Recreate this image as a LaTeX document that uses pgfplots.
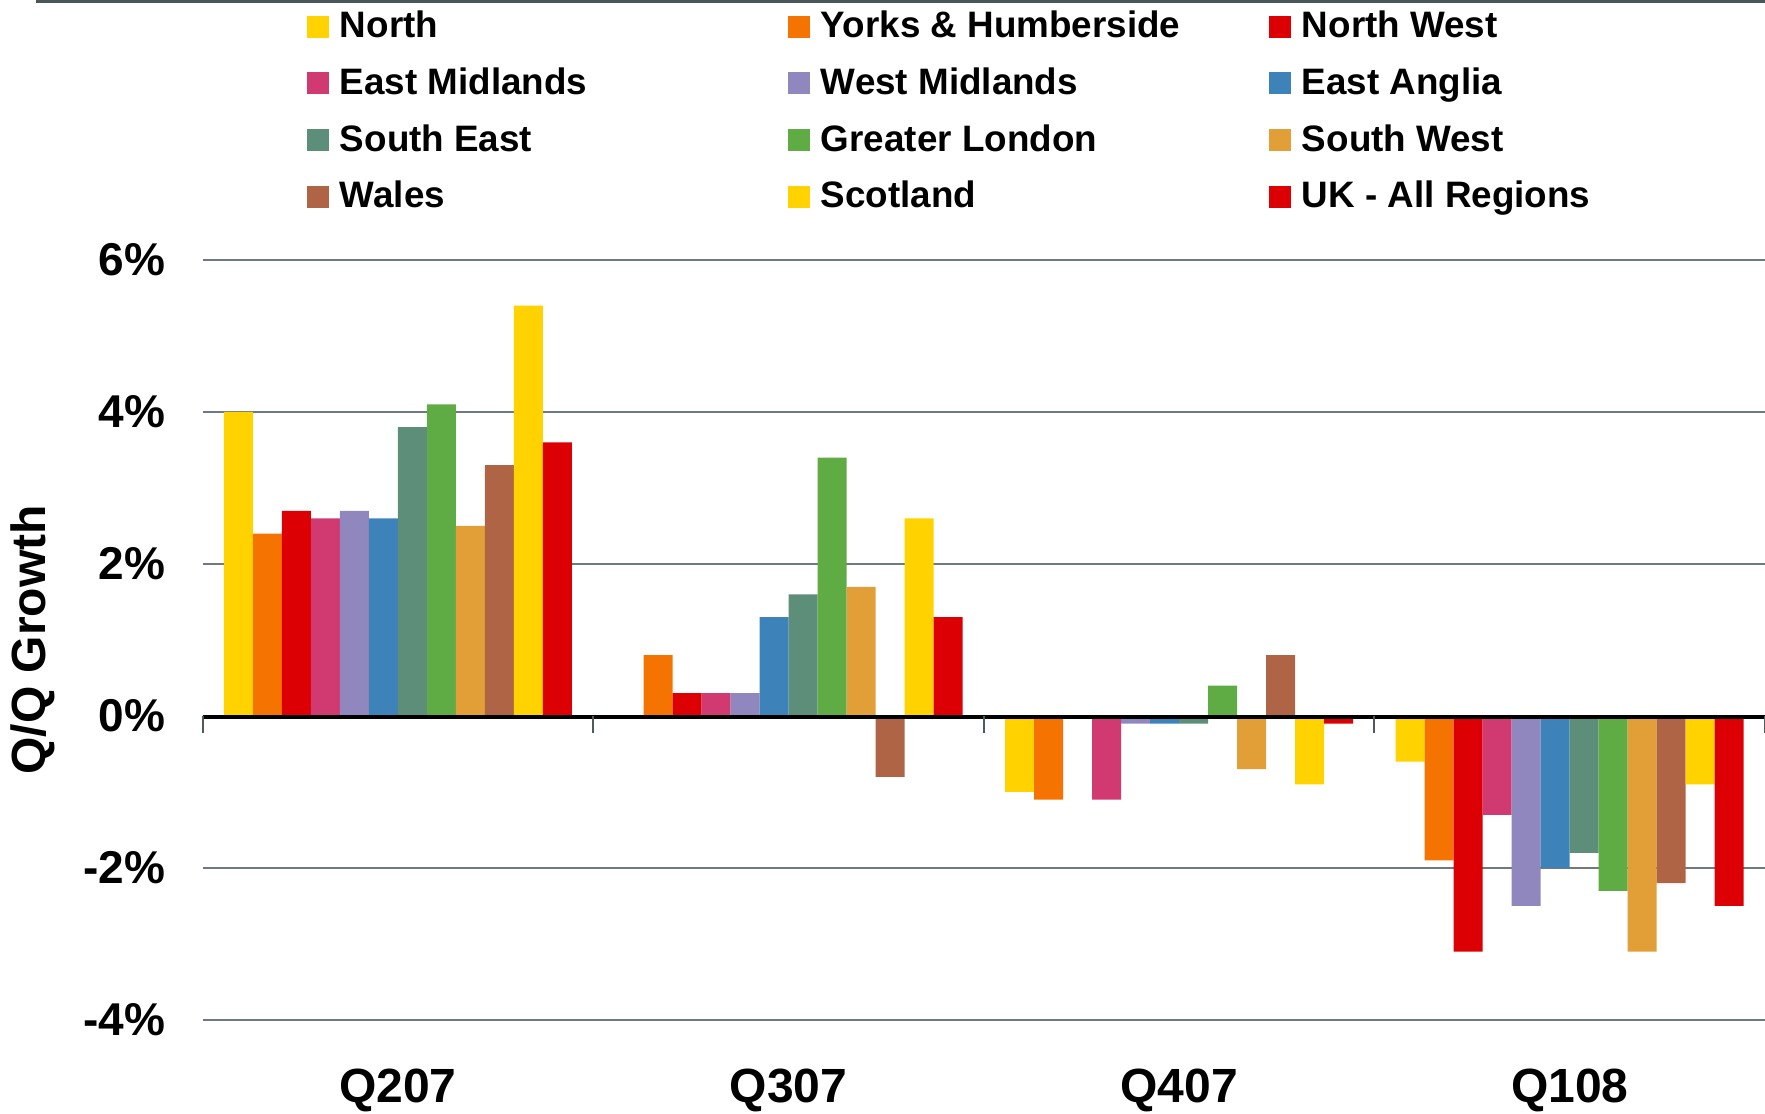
\documentclass[border=0pt]{standalone}
\usepackage{pgfplots}
\pgfplotsset{compat=1.18}
\usepackage{fontspec}
\setmainfont{Liberation Sans}
\definecolor{cNorth}{HTML}{FFD200}
\definecolor{cYorks}{HTML}{F57300}
\definecolor{cNW}{HTML}{DC0005}
\definecolor{cEM}{HTML}{D13A70}
\definecolor{cWM}{HTML}{9187BF}
\definecolor{cEA}{HTML}{3D82B8}
\definecolor{cSE}{HTML}{5C8E7A}
\definecolor{cGL}{HTML}{5FAB44}
\definecolor{cSW}{HTML}{E29F37}
\definecolor{cWales}{HTML}{AF6446}
\definecolor{cScot}{HTML}{FFD200}
\definecolor{cUK}{HTML}{DC0005}
\definecolor{gridgray}{HTML}{6E7A7D}
\definecolor{topline}{HTML}{4B565B}
\definecolor{tickgray}{HTML}{4F5A5E}
\begin{document}
\begin{tikzpicture}
\path[use as bounding box] (-101.3pt,-46.5pt) rectangle (781.2pt,510pt);
\draw[color=topline, line width=1.5pt] (-83.3pt,509.4pt) -- (781.2pt,509.4pt);
\begin{axis}[
  at={(0pt,0pt)}, anchor=south west,
  scale only axis, width=781.2pt, height=380pt,
  clip=false,
  ybar=0pt, bar width=14.5pt,
  xmin=-0.5, xmax=3.5, ymin=-4, ymax=6,
  xtick={0,1,2,3}, xticklabels={Q207,Q307,Q407,Q108},
  ytick={-4,-2,0,2,4,6}, yticklabels={-4\%,-2\%,0\%,2\%,4\%,6\%},
  major tick length=0pt,
  axis line style={draw=none},
  ymajorgrids, major grid style={gridgray, line width=0.6pt},
  xticklabel style={font=\fontsize{24}{28}\selectfont\bfseries, anchor=center, inner sep=0pt, yshift=-35pt},
  yticklabel style={font=\fontsize{23}{27}\selectfont\bfseries, anchor=east, inner sep=0pt, xshift=-18.5pt},
  ylabel={Q/Q Growth},
  ylabel style={font=\fontsize{24}{28}\selectfont\bfseries, at={(axis description cs:-0.1085,0.5)}, anchor=center},
  legend columns=3,
  legend cell align=left,
  legend style={at={(axis description cs:0.0668,1.3265)}, anchor=north west, draw=none, fill=none, inner sep=0pt, outer sep=0pt,
    font=\fontsize{18.4}{21}\selectfont\bfseries, column sep=0pt, row sep=11.3pt,
    nodes={inner sep=0pt, text height=13pt, text depth=4pt},
    /tikz/every odd column/.append style={column sep=5.5pt}},
  legend image code/.code={\fill[#1] (0pt,-4.5pt) rectangle (11pt,6.5pt);},
]
\addplot[fill=cNorth, draw=none] coordinates {(0,4.0) (1,0) (2,-1.0) (3,-0.6)};
\addlegendentry{\makebox[224pt][l]{North}}
\addplot[fill=cYorks, draw=none] coordinates {(0,2.4) (1,0.8) (2,-1.1) (3,-1.9)};
\addlegendentry{\makebox[224pt][l]{Yorks \& Humberside}}
\addplot[fill=cNW, draw=none] coordinates {(0,2.7) (1,0.3) (2,0) (3,-3.1)};
\addlegendentry{\makebox[224pt][l]{North West}}
\addplot[fill=cEM, draw=none] coordinates {(0,2.6) (1,0.3) (2,-1.1) (3,-1.3)};
\addlegendentry{\makebox[224pt][l]{East Midlands}}
\addplot[fill=cWM, draw=none] coordinates {(0,2.7) (1,0.3) (2,-0.1) (3,-2.5)};
\addlegendentry{\makebox[224pt][l]{West Midlands}}
\addplot[fill=cEA, draw=none] coordinates {(0,2.6) (1,1.3) (2,-0.1) (3,-2.0)};
\addlegendentry{\makebox[224pt][l]{East Anglia}}
\addplot[fill=cSE, draw=none] coordinates {(0,3.8) (1,1.6) (2,-0.1) (3,-1.8)};
\addlegendentry{\makebox[224pt][l]{South East}}
\addplot[fill=cGL, draw=none] coordinates {(0,4.1) (1,3.4) (2,0.4) (3,-2.3)};
\addlegendentry{\makebox[224pt][l]{Greater London}}
\addplot[fill=cSW, draw=none] coordinates {(0,2.5) (1,1.7) (2,-0.7) (3,-3.1)};
\addlegendentry{\makebox[224pt][l]{South West}}
\addplot[fill=cWales, draw=none] coordinates {(0,3.3) (1,-0.8) (2,0.8) (3,-2.2)};
\addlegendentry{\makebox[224pt][l]{Wales}}
\addplot[fill=cScot, draw=none] coordinates {(0,5.4) (1,2.6) (2,-0.9) (3,-0.9)};
\addlegendentry{\makebox[224pt][l]{Scotland}}
\addplot[fill=cUK, draw=none] coordinates {(0,3.6) (1,1.3) (2,-0.1) (3,-2.5)};
\addlegendentry{\makebox[224pt][l]{UK - All Regions}}
\draw[black, line width=2.2pt] ([yshift=-0.6pt]axis cs:-0.5,0) -- ([yshift=-0.6pt]axis cs:3.5,0);
\draw[tickgray, line width=1pt] (axis cs:-0.5,0) -- ++(0pt,-8.5pt);
\draw[tickgray, line width=1pt] (axis cs:0.5,0) -- ++(0pt,-8.5pt);
\draw[tickgray, line width=1pt] (axis cs:1.5,0) -- ++(0pt,-8.5pt);
\draw[tickgray, line width=1pt] (axis cs:2.5,0) -- ++(0pt,-8.5pt);
\draw[tickgray, line width=1pt] (axis cs:3.5,0) -- ++(0pt,-8.5pt);
\end{axis}
\end{tikzpicture}
\end{document}
